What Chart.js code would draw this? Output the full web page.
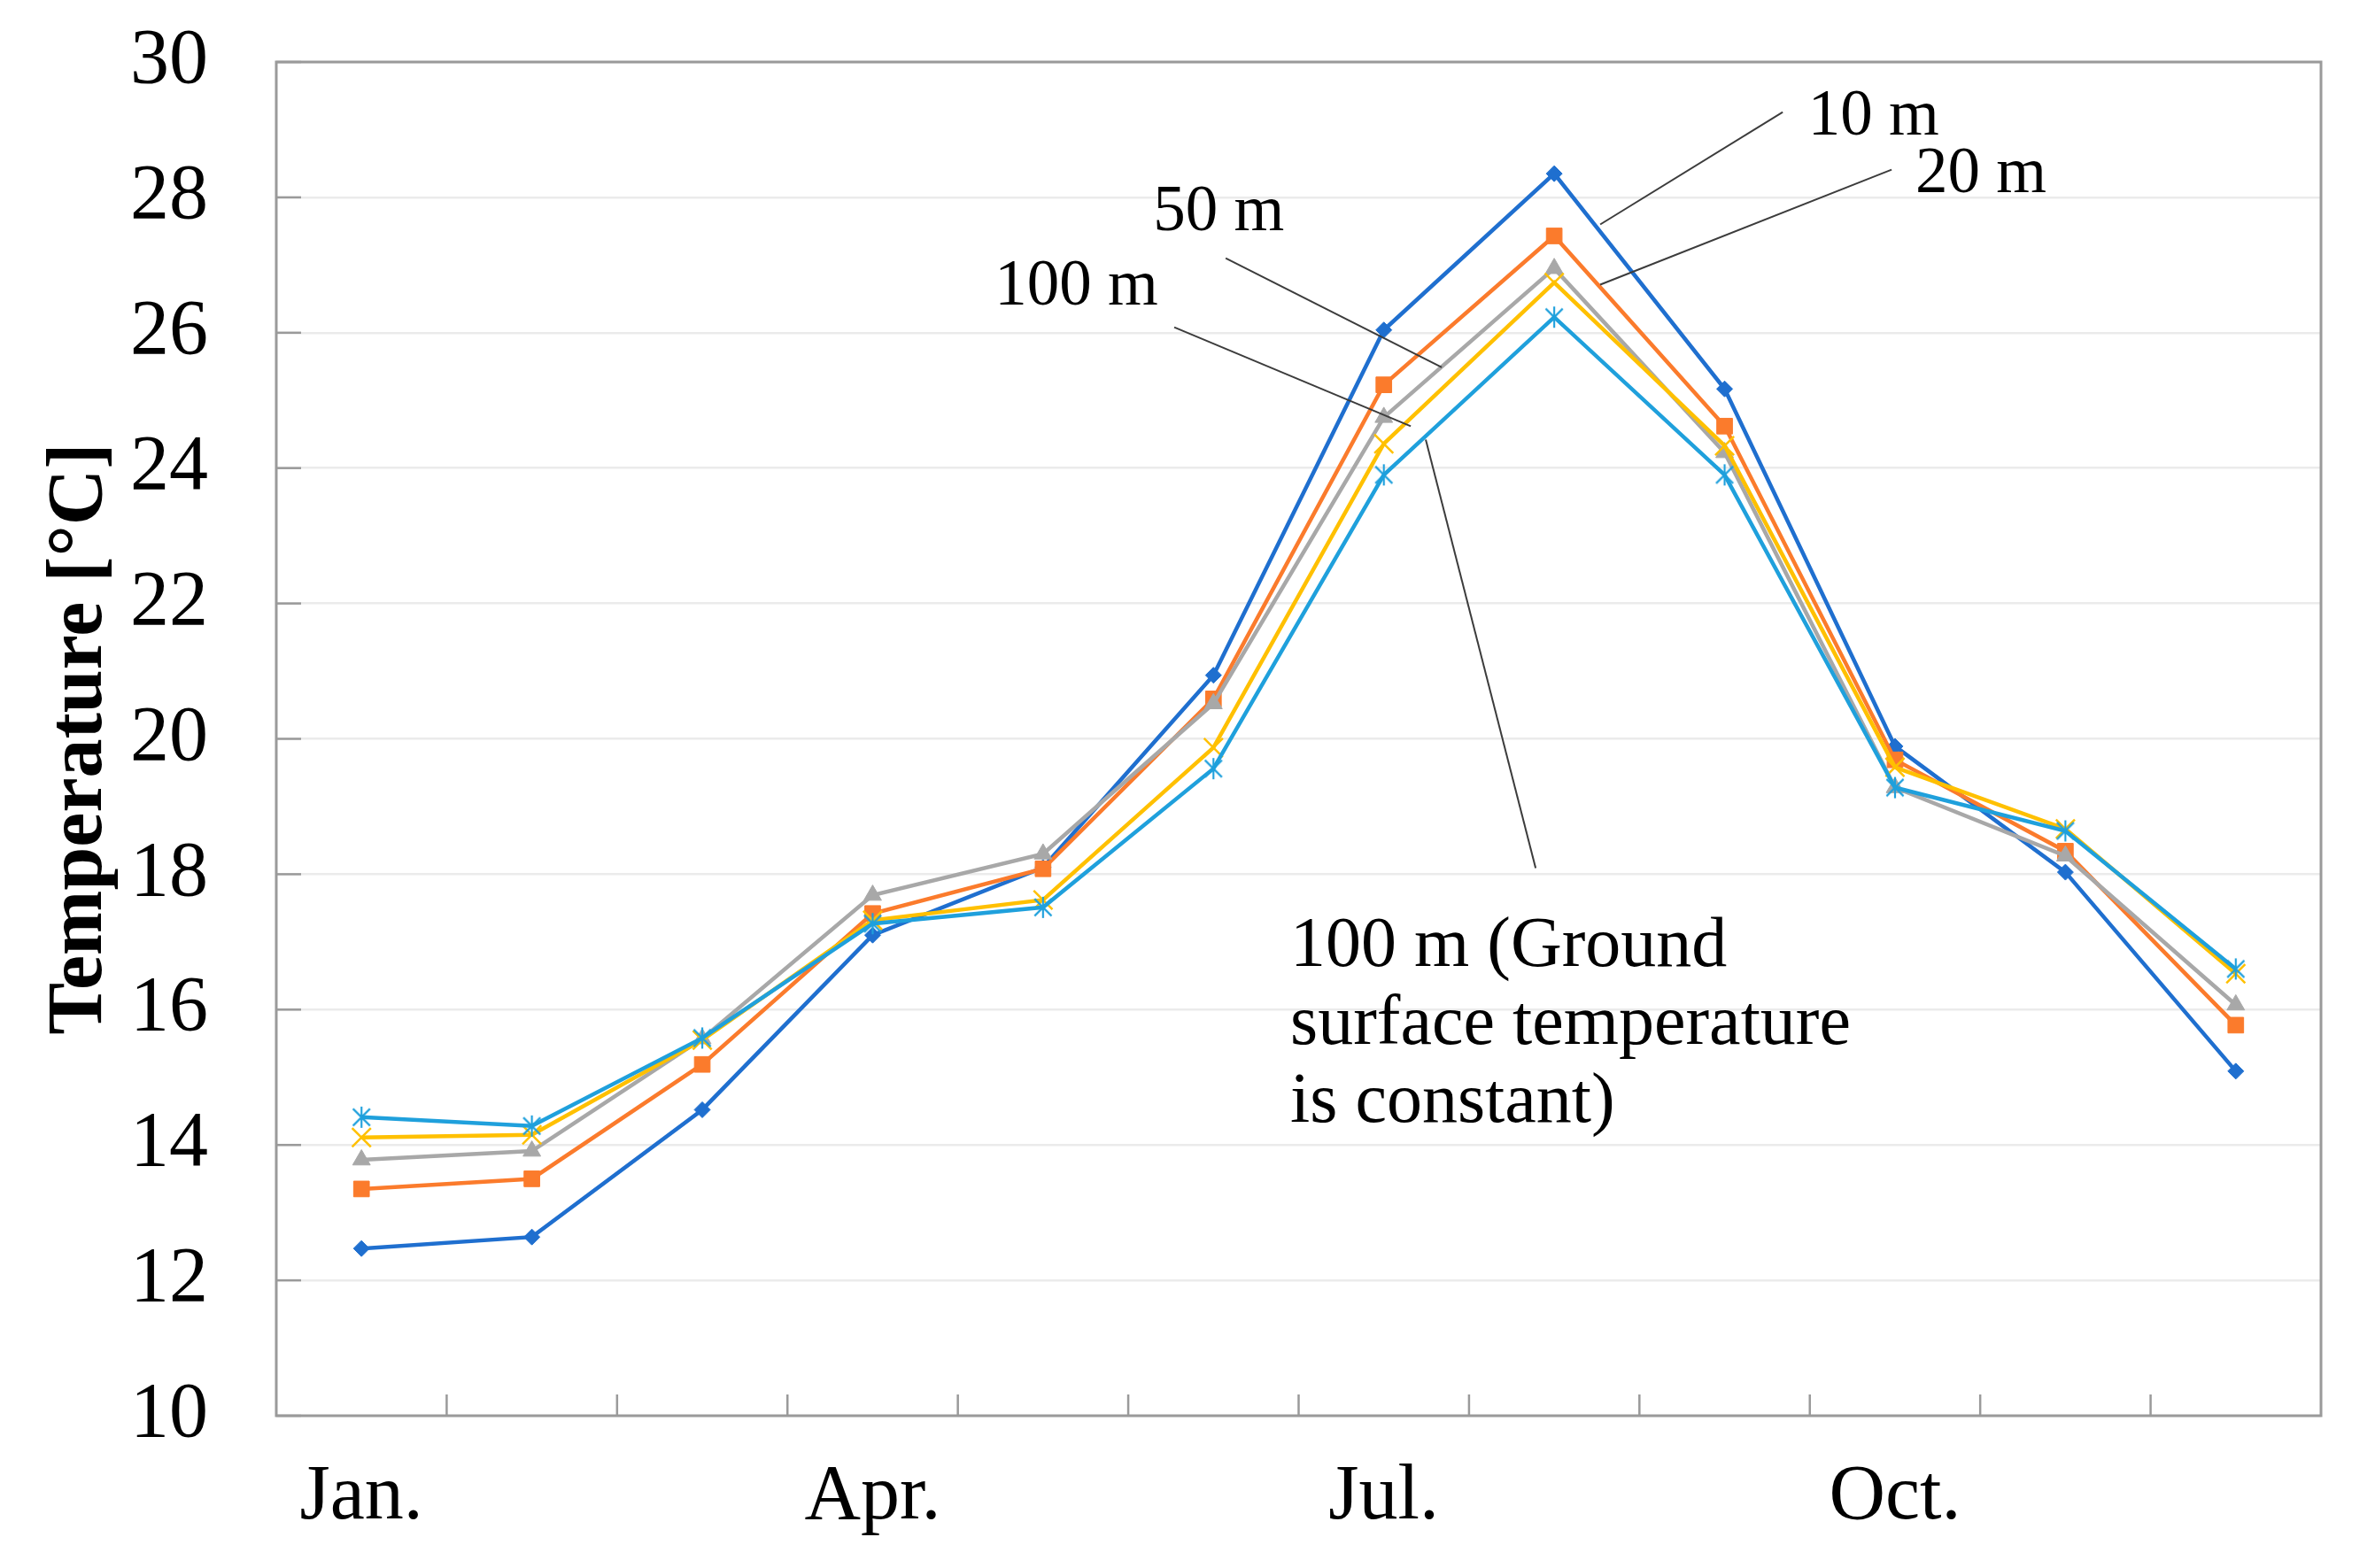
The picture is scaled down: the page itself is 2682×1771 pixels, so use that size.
<!DOCTYPE html>
<html><head><meta charset="utf-8">
<script src="https://cdn.jsdelivr.net/npm/chart.js@4.4.1/dist/chart.umd.min.js"></script>
<style>html,body{margin:0;padding:0;background:#fff;} canvas{display:block;}</style>
</head><body>
<canvas id="c" width="2682" height="1771"></canvas>
<script>
// ---- data ----
const months = ['Jan.','Feb.','Mar.','Apr.','May','Jun.','Jul.','Aug.','Sep.','Oct.','Nov.','Dec.'];
const tickLabels = ['Jan.','','','Apr.','','','Jul.','','','Oct.','',''];
const seriesNames = ['10 m','20 m','50 m','100 m','100 m (Ground surface temperature is constant)'];
const t10m  = [12.47, 12.64, 14.52, 17.10, 18.10, 20.94, 26.04, 28.35, 25.17, 19.89, 18.03, 15.09];
const t20m  = [13.35, 13.50, 15.19, 17.42, 18.08, 20.59, 25.23, 27.43, 24.62, 19.69, 18.34, 15.77];
const t50m  = [13.78, 13.91, 15.57, 17.69, 18.30, 20.52, 24.75, 26.95, 24.23, 19.28, 18.27, 16.07];
const t100m = [14.11, 14.15, 15.55, 17.32, 17.62, 19.87, 24.36, 26.74, 24.33, 19.58, 18.67, 16.53];
const t100c = [14.41, 14.28, 15.58, 17.27, 17.51, 19.56, 23.90, 26.23, 23.90, 19.28, 18.64, 16.60];
const yMin = 10, yMax = 30, yStep = 2;

// annotation texts anchored in data coordinates [category index, temperature]
const annoTexts = [
  {lines:['10 m'], at:[8.49, 28.93]},
  {lines:['20 m'], at:[9.12, 28.08]},
  {lines:['50 m'], at:[4.646, 27.52]},
  {lines:['100 m'], at:[3.716, 26.41]},
  {lines:['100 m (Ground','surface temperature','is constant)'], at:[5.451, 16.65], big:true}
];
const leaders = [
  [[8.341, 29.26],[7.270, 27.60]],
  [[8.980, 28.41],[7.270, 26.71]],
  [[5.072, 27.10],[6.340, 25.49]],
  [[4.770, 26.08],[6.158, 24.62]],
  [[6.246, 24.42],[6.891, 18.09]]
];

const colors = ['#1f6fcf','#fb7b2c','#a8a8a8','#ffc000','#1fa0dc'];
const SERIF = '"Liberation Serif", "Times New Roman", serif';

// asterisk marker (X plus vertical bar)
function asterisk(color, r){
  const c = document.createElement('canvas');
  c.width = c.height = 2*r+4;
  const g = c.getContext('2d');
  const m = r+2, d = r*0.8;
  g.strokeStyle = color; g.lineWidth = 2.2; g.lineCap = 'butt';
  g.beginPath();
  g.moveTo(m-d, m-d); g.lineTo(m+d, m+d);
  g.moveTo(m+d, m-d); g.lineTo(m-d, m+d);
  g.moveTo(m, m-r); g.lineTo(m, m+r);
  g.stroke();
  return c;
}

const decorPlugin = {
  id:'decor',
  beforeDatasetsDraw(chart){
    const {ctx, chartArea:a, scales:{x,y}} = chart;
    ctx.save();
    ctx.strokeStyle = '#9a9a9a'; ctx.lineWidth = 2.5;
    for (let v = yMin; v <= yMax; v += yStep){
      const py = y.getPixelForValue(v);
      ctx.beginPath(); ctx.moveTo(a.left, py); ctx.lineTo(a.left+28, py); ctx.stroke();
    }
    for (let k = 1; k < months.length; k++){
      const px = (x.getPixelForValue(k-1) + x.getPixelForValue(k))/2;
      ctx.beginPath(); ctx.moveTo(px, a.bottom); ctx.lineTo(px, a.bottom-24); ctx.stroke();
    }
    ctx.strokeStyle = '#9a9a9a'; ctx.lineWidth = 3;
    ctx.strokeRect(a.left, a.top, a.right-a.left, a.bottom-a.top);
    ctx.restore();
  },
  afterDraw(chart){
    const {ctx, scales:{x,y}} = chart;
    const X = i => x.getPixelForDecimal((i+0.5)/months.length);
    const Y = v => y.getPixelForValue(v);
    ctx.save();
    ctx.strokeStyle = '#3c3c3c'; ctx.lineWidth = 2;
    leaders.forEach(([p,q])=>{
      ctx.beginPath(); ctx.moveTo(X(p[0]),Y(p[1])); ctx.lineTo(X(q[0]),Y(q[1])); ctx.stroke();
    });
    ctx.fillStyle = '#000'; ctx.textBaseline = 'alphabetic'; ctx.textAlign = 'left';
    annoTexts.forEach(t=>{
      ctx.font = (t.big ? '80px ' : '73px ') + SERIF;
      t.lines.forEach((s,j)=> ctx.fillText(s, X(t.at[0]), Y(t.at[1]) + j*88));
    });
    ctx.restore();
  }
};

const mk = (i, data, style, r, extra) => Object.assign({
  label: seriesNames[i], data, borderColor: colors[i], backgroundColor: colors[i],
  pointBackgroundColor: colors[i], pointBorderColor: colors[i],
  borderWidth: 4.5, pointStyle: style, pointRadius: r, pointBorderWidth: 1,
  tension: 0, order: 5 - i
}, extra || {});

new Chart(document.getElementById('c'), {
  type:'line',
  data:{
    labels: months,
    datasets:[
      mk(0, t10m, 'rectRot', 9),
      mk(1, t20m, 'rect', 12.5),
      mk(2, t50m, 'triangle', 11.5),
      mk(3, t100m, 'crossRot', 15, {pointBorderWidth:2.5}),
      mk(4, t100c, asterisk(colors[4], 12), 12)
    ]
  },
  options:{
    responsive:false, animation:false, devicePixelRatio:1,
    layout:{padding:{left:0, top:70, right:61, bottom:0}},
    plugins:{legend:{display:false}, tooltip:{enabled:false}},
    scales:{
      x:{
        offset:true,
        grid:{display:false, drawTicks:false},
        border:{display:false},
        ticks:{autoSkip:false, maxRotation:0, padding:40, color:'#000',
          font:{family:SERIF, size:88},
          callback:(v,i)=>tickLabels[i]},
        afterFit:s=>{s.height = 172;}
      },
      y:{
        min:yMin, max:yMax,
        grid:{color:'#ebebeb', lineWidth:2.5, drawTicks:true, tickLength:77, tickColor:'rgba(0,0,0,0)'},
        border:{display:false},
        ticks:{stepSize:yStep, padding:0, color:'#000', font:{family:SERIF, size:88}},
        title:{display:true, text:'Temperature [°C]', color:'#000',
          font:{family:SERIF, size:88, weight:'bold'}, padding:{top:38, bottom:0}},
        afterFit:s=>{s.width = 312;}
      }
    }
  },
  plugins:[decorPlugin]
});
</script>
</body></html>
